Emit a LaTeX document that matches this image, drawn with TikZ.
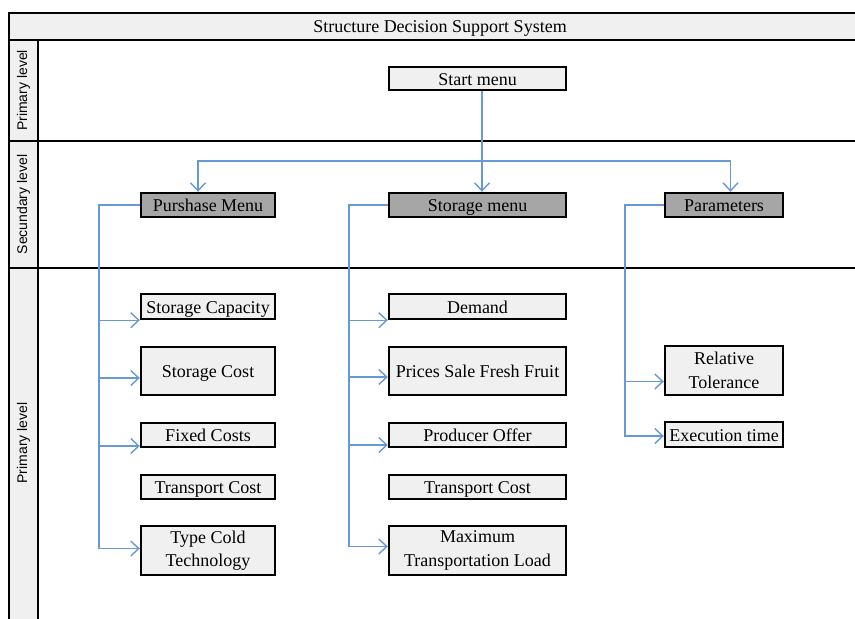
\documentclass[tikz,border=0pt]{standalone}
\usepackage{fontspec}
\setmainfont{Liberation Serif}
\newfontfamily\lanefont{Liberation Sans}
\usetikzlibrary{arrows.meta,calc}
\definecolor{boxfill}{HTML}{F0F0F0}
\definecolor{menufill}{HTML}{A6A6A6}
\definecolor{linkblue}{RGB}{102,153,214}
\begin{document}
\begin{tikzpicture}[x=1pt,y=-1pt,
  frame/.style={line width=2pt, black},
  item/.style={draw=black, line width=2.4pt, fill=boxfill, inner sep=0pt,
               align=center, font=\fontsize{18}{23.5}\selectfont},
  oneline/.style={text height=13.5pt, text depth=0pt},
  menu/.style={item, oneline, fill=menufill},
  link/.style={draw=linkblue, line width=1.4pt},
  conn/.style={link, -{Straight Barb[length=8pt,width=15pt,line width=1.4pt]}},
  lanelabel/.style={rotate=90, font=\lanefont\fontsize{14}{16}\selectfont}
]
\useasboundingbox (0,0) rectangle (855,619);

% swimlane frame
\fill[boxfill] (9,13) rectangle (855,40);
\fill[boxfill] (9,40) rectangle (38,619);
\draw[frame] (855,13) -- (9,13) -- (9,619);
\draw[frame] (38,40) -- (38,619);
\draw[frame] (9,40) -- (855,40);
\draw[frame] (9,141) -- (855,141);
\draw[frame] (9,268) -- (855,268);

\node[font=\fontsize{18}{20}\selectfont, text height=12pt, text depth=1pt] (title) at (440,27) {Structure Decision Support System};
\node[lanelabel] (lane1) at (23.5,90.5) {Primary level};
\node[lanelabel] (lane2) at (23.5,204.5) {Secundary level};
\node[lanelabel] (lane3) at (23.5,443) {Primary level};

% top and second level
\node[item, oneline, minimum width=177pt, minimum height=23pt] (start) at (477.5,78.5) {Start menu};
\node[menu, minimum width=134pt, minimum height=24pt] (pm) at (208,205) {Purshase Menu};
\node[menu, minimum width=177pt, minimum height=24pt] (sm) at (477.5,205) {Storage menu};
\node[menu, minimum width=118pt, minimum height=24pt] (par) at (724,205) {Parameters};

% purchase items
\node[item, oneline, minimum width=134pt, minimum height=25pt] (sc) at (208,306.5) {Storage Capacity};
\node[item, oneline, minimum width=134pt, minimum height=48pt] (stc) at (208,371) {Storage Cost};
\node[item, oneline, minimum width=134pt, minimum height=24pt] (fc) at (208,435) {Fixed Costs};
\node[item, oneline, minimum width=134pt, minimum height=24pt] (tc1) at (208,487) {Transport Cost};
\node[item, minimum width=134pt, minimum height=49pt] (tcold) at (208,550.5) {Type Cold\\Technology};

% storage items
\node[item, oneline, minimum width=177pt, minimum height=25pt] (dem) at (477.5,306.5) {Demand};
\node[item, oneline, minimum width=177pt, minimum height=48pt] (psf) at (477.5,371) {Prices Sale Fresh Fruit};
\node[item, oneline, minimum width=177pt, minimum height=24pt] (po) at (477.5,435) {Producer Offer};
\node[item, oneline, minimum width=177pt, minimum height=24pt] (tc2) at (477.5,487) {Transport Cost};
\node[item, minimum width=177pt, minimum height=49pt] (mtl) at (477.5,550.5) {Maximum\\Transportation Load};

% parameter items
\node[item, minimum width=118pt, minimum height=49pt] (rt) at (724,370.5) {Relative\\Tolerance};
\node[item, oneline, minimum width=118pt, minimum height=25pt] (et) at (724,434.5) {Execution time};

% start menu to second level
\coordinate (hub) at (482,161);
\coordinate (busL) at (198,161);
\coordinate (busR) at (730.5,161);
\draw[conn] (start.south -| hub) -- (sm.north -| hub);
\draw[conn] (hub) -| (pm.north -| busL);
\draw[conn] (hub) -| (par.north -| busR);

% entry points on the item boxes
\path ($(stc.west)+(0,7)$) coordinate (stcin)
      ($(fc.west)+(0,11)$) coordinate (fcin)
      ($(tcold.west)+(0,-2)$) coordinate (tcoldin)
      ($(psf.west)+(0,6)$) coordinate (psfin)
      ($(po.west)+(0,10)$) coordinate (poin)
      ($(mtl.west)+(0,-4)$) coordinate (mtlin)
      ($(rt.west)+(0,11)$) coordinate (rtin)
      ($(et.west)+(0,1.5)$) coordinate (etin);

% purchase menu branches
\coordinate (ta) at (99,205);
\draw[conn] (pm.west) -- (ta) |- (tcoldin);
\draw[conn] (ta |- sc.south west) -- (sc.south west);
\draw[conn] (ta |- stcin) -- (stcin);
\draw[conn] (ta |- fcin) -- (fcin);

% storage menu branches
\coordinate (tb) at (349,205);
\draw[conn] (sm.west) -- (tb) |- (mtlin);
\draw[conn] (tb |- dem.south west) -- (dem.south west);
\draw[conn] (tb |- psfin) -- (psfin);
\draw[conn] (tb |- poin) -- (poin);

% parameter branches
\coordinate (tp) at (625,205);
\draw[conn] (par.west) -- (tp) |- (etin);
\draw[conn] (tp |- rtin) -- (rtin);
\end{tikzpicture}
\end{document}
